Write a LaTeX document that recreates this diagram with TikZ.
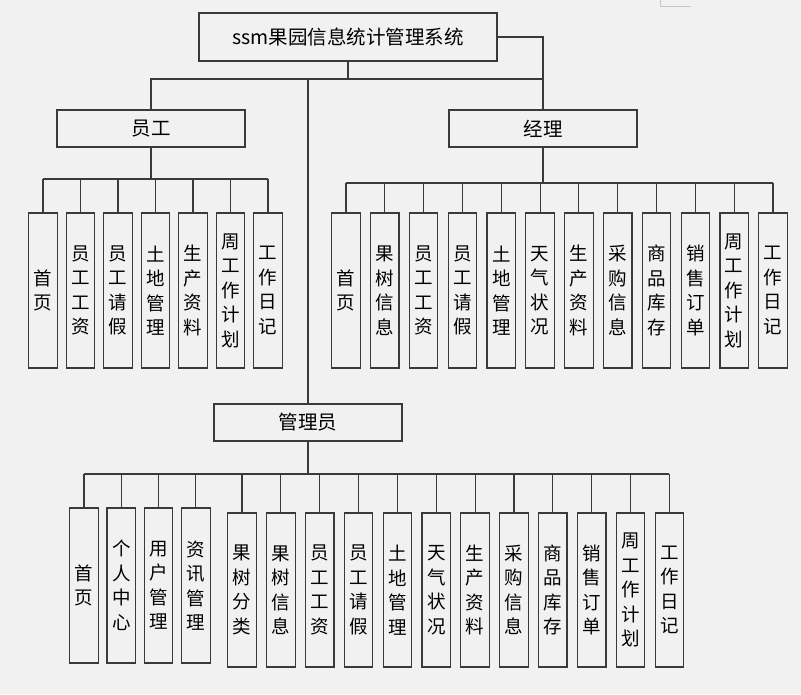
\documentclass[tikz,border=0pt]{standalone}
\usepackage{fontspec}
\newfontfamily\cjk{Noto Sans CJK SC}
\definecolor{bgc}{HTML}{F1F1F1}
\definecolor{lnc}{HTML}{3A3A3A}
\begin{document}
\begin{tikzpicture}[x=1pt,y=-1pt,
  conn/.style={draw=lnc,line width=1.1pt},
  bigbox/.style={draw=lnc,line width=1.2pt,fill=bgc,inner sep=0pt,minimum width=188pt,minimum height=37pt,font=\cjk\fontsize{19.5}{22}\selectfont},
  leafbox/.style={draw=lnc,line width=1.2pt,fill=bgc,inner sep=0pt,minimum width=28.5pt,minimum height=155pt,align=center,font=\cjk\fontsize{18.5}{24.5}\selectfont}]
\fill[bgc] (0,0) rectangle (801,694);
\useasboundingbox (0,0) rectangle (801,694);
\draw[gray!45,line width=0.8pt] (660,0) -- (660,6) -- (691,6);

% top level
\node[bigbox,minimum width=298pt,minimum height=48pt] (title) at (348,37) {ssm果园信息统计管理系统};
\node[bigbox] (emp) at (151,128.5) {员工};
\node[bigbox] (mgr) at (543,128.5) {经理};
\node[bigbox] (adm) at (308,422.5) {管理员};
\coordinate (topbus) at (0,79);
\coordinate (ebus) at (0,179);
\coordinate (mbus) at (0,183);
\coordinate (abus) at (0,474);

\draw[conn] (title.south) -- (title.south |- topbus);
\draw[conn] (emp.north) -- (emp.north |- topbus) -- (mgr.north |- topbus);
\draw[conn] (title.east) -| (mgr.north);
\draw[conn] (adm.north |- topbus) -- (adm.north);

% employee leaves
\foreach \t [count=\i from 0] in {{首\\页},{员\\工\\工\\资},{员\\工\\请\\假},{土\\地\\管\\理},{生\\产\\资\\料},{周\\工\\作\\计\\划},{工\\作\\日\\记}}{
  \node[leafbox] (e\i) at ({43+37.5*\i},290.5) {\t};
  \draw[conn] (e\i.north) -- (e\i.north |- ebus);
}
\draw[conn] (e0.north |- ebus) -- (e6.north |- ebus);
\draw[conn] (emp.south) -- (emp.south |- ebus);

% manager leaves
\foreach \t [count=\i from 0] in {{首\\页},{果\\树\\信\\息},{员\\工\\工\\资},{员\\工\\请\\假},{土\\地\\管\\理},{天\\气\\状\\况},{生\\产\\资\\料},{采\\购\\信\\息},{商\\品\\库\\存},{销\\售\\订\\单},{周\\工\\作\\计\\划},{工\\作\\日\\记}}{
  \node[leafbox] (m\i) at ({346+38.82*\i},290.5) {\t};
  \draw[conn] (m\i.north) -- (m\i.north |- mbus);
}
\draw[conn] (m0.north |- mbus) -- (m11.north |- mbus);
\draw[conn] (mgr.south) -- (mgr.south |- mbus);

% admin leaves
\foreach \t [count=\i from 0] in {{首\\页},{个\\人\\中\\心},{用\\户\\管\\理},{资\\讯\\管\\理}}{
  \node[leafbox] (a\i) at ({84+37.3*\i},585.5) {\t};
  \draw[conn] (a\i.north) -- (a\i.north |- abus);
}
\foreach \t [count=\i from 0] in {{果\\树\\分\\类},{果\\树\\信\\息},{员\\工\\工\\资},{员\\工\\请\\假},{土\\地\\管\\理},{天\\气\\状\\况},{生\\产\\资\\料},{采\\购\\信\\息},{商\\品\\库\\存},{销\\售\\订\\单},{周\\工\\作\\计\\划},{工\\作\\日\\记}}{
  \node[leafbox,minimum height=154pt] (b\i) at ({242+38.85*\i},590) {\t};
  \draw[conn] (b\i.north) -- (b\i.north |- abus);
}
\draw[conn] (a0.north |- abus) -- (b11.north |- abus);
\draw[conn] (adm.south) -- (adm.south |- abus);
\end{tikzpicture}
\end{document}
